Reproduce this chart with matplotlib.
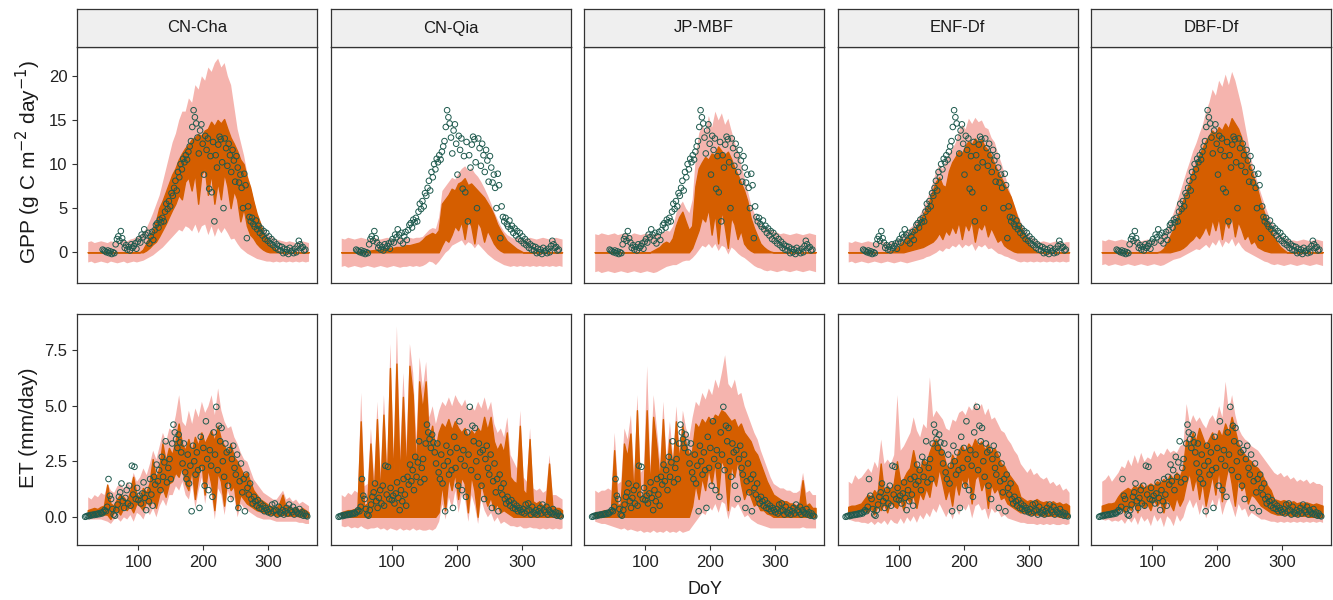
# GPP / ET: obserwacje vs. zakres modelu, 5 stanowisk

import numpy as np
import matplotlib.pyplot as plt

plt.rcParams['font.family'] = ['Liberation Sans', 'DejaVu Sans']

sites = ['CN-Cha', 'CN-Qia', 'JP-MBF', 'ENF-Df', 'DBF-Df']

# dni modelu (co 5 dni)
model_days = np.arange(22, 363, 5)

# obserwacje (wspólne dla wszystkich paneli w wierszu)
gpp_obs_days = np.arange(45, 358, 2)
gpp_obs = [0.3, 0.2, 0.1, 0.0, 0.2, -0.1, 0.1, -0.2, 0.0, -0.1,
           0.9, 1.5, 1.8, 1.3, 2.4, 1.6, 1.1, 0.5, 0.8, 0.3,
           0.6, 0.2, 0.9, 0.5, 0.7, 1.0, 0.4, 1.2, 1.5, 1.1,
           2.0, 1.7, 2.6, 2.0, 1.3, 2.2, 1.0, 1.8, 2.3, 1.4,
           2.5, 3.1, 3.3, 2.8, 3.7, 3.4, 3.9, 3.5, 4.6, 5.5,
           4.9, 5.8, 5.2, 6.7, 6.4, 7.3, 8.1, 7.0, 9.1, 8.5,
           10.0, 9.4, 10.6, 10.2, 11.0, 10.5, 11.4, 12.0, 12.6, 14.2,
           16.1, 15.3, 14.6, 13.0, 11.2, 13.8, 14.5, 12.3, 8.8, 13.2,
           11.6, 12.9, 7.2, 10.9, 6.8, 12.5, 3.5, 11.0, 9.6, 12.2,
           13.1, 12.8, 10.2, 5.0, 12.9, 11.8, 9.8, 12.3, 11.0, 9.1,
           11.6, 10.4, 8.0, 10.9, 9.6, 7.9, 8.8, 7.3, 5.0, 8.9,
           7.6, 1.6, 5.2, 4.0, 3.5, 3.9, 3.2, 2.9, 3.6, 2.6,
           3.0, 2.2, 2.7, 1.9, 2.4, 1.5, 2.2, 1.3, 1.8, 1.0,
           1.5, 0.8, 1.2, 0.5, 0.9, 0.3, 0.7, 0.2, 0.6, -0.1,
           0.4, 0.0, 0.3, -0.2, 0.5, 0.1, 0.2, -0.1, 0.4, 0.0,
           0.7, 1.3, 0.9, 0.5, 0.6, 0.2, 0.3]

et_obs_days = np.arange(18, 361, 2)
et_obs = [0.00, 0.02, 0.05, 0.03, 0.08, 0.06, 0.10, 0.08, 0.12, 0.10,
          0.15, 0.12, 0.18, 0.15, 0.22, 0.30, 0.25, 0.45, 1.70, 0.95,
          0.80, 0.35, 0.10, 0.05, 0.30, 0.55, 0.90, 1.10, 1.50, 0.70,
          0.40, 0.85, 1.20, 0.60, 1.40, 0.50, 2.30, 1.00, 2.25, 0.80,
          1.30, 0.75, 0.95, 0.60, 1.05, 1.55, 0.85, 0.30, 1.20, 0.70,
          1.70, 1.00, 0.50, 1.80, 1.45, 2.35, 1.60, 2.10, 1.20, 2.70,
          1.80, 2.45, 3.40, 1.55, 2.20, 2.60, 1.70, 3.30, 4.15, 3.80,
          3.50, 3.10, 3.70, 3.35, 2.90, 2.40, 3.30, 2.00, 1.70, 2.80,
          1.50, 2.30, 0.25, 3.20, 2.50, 1.90, 2.90, 2.10, 0.40, 3.60,
          2.20, 3.10, 1.40, 4.30, 2.60, 1.20, 3.00, 2.30, 0.90, 3.80,
          2.80, 4.95, 2.10, 4.10, 3.40, 4.00, 2.50, 1.80, 3.30, 2.90,
          1.40, 3.00, 0.80, 2.60, 3.20, 2.20, 1.90, 2.80, 0.40, 1.60,
          2.40, 1.10, 1.70, 0.25, 1.90, 1.30, 1.00, 1.50, 0.80, 0.60,
          0.90, 0.70, 0.50, 0.75, 0.40, 0.60, 0.35, 0.50, 0.25, 0.40,
          0.30, 0.20, 0.35, 0.15, 0.55, 0.25, 0.60, 0.30, 0.10, 0.45,
          0.20, 0.15, 0.30, 0.10, 0.25, 0.40, 0.15, 0.55, 0.30, 0.20,
          0.45, 0.10, 0.30, 0.20, 0.15, 0.35, 0.10, 0.20, 0.05, 0.15,
          0.05, 0.02]

# ---------------- GPP: zakres wewnętrzny (lo/hi) i zewnętrzny (env) ----------------
gpp_cha_hi = [0, 0, 0, 0, 0, 0, 0, 0, 0, 0,
              0, 0, 0, 0, 0, 0, 0, 0.3, 1.0, 1.8,
              2.5, 3.5, 5.0, 5.8, 6.8, 7.8, 8.8, 9.5, 10.5, 11.2,
              11.8, 12.2, 12.8, 13.0, 13.4, 13.2, 13.8, 14.0, 14.8, 14.3,
              15.0, 14.6, 15.1, 14.0, 13.0, 12.3, 11.5, 10.5, 10.0, 8.5,
              7.4, 5.8, 4.4, 3.4, 2.2, 1.6, 1.0, 0.6, 0.3, 0,
              0, 0, 0, 0, 0, 0, 0, 0, 0]
gpp_cha_lo = [0, 0, 0, 0, 0, 0, 0, 0, 0, 0,
              0, 0, 0, 0, 0, 0, 0, 0, 0.2, 0.5,
              0.9, 1.2, 1.8, 2.5, 3.2, 4.0, 4.8, 5.5, 6.5, 6.0,
              8.0, 8.5, 7.0, 9.0, 5.5, 8.8, 9.5, 6.5, 9.0, 5.5,
              8.0, 6.0, 9.0, 7.5, 5.0, 7.0, 6.0, 3.5, 5.0, 3.0,
              2.0, 1.6, 1.0, 0.6, 0.3, 0.1, 0, 0, 0, 0,
              0, 0, 0, 0, 0, 0, 0, 0, 0]
gpp_cha_env_hi = [1.2, 1.3, 1.1, 1.2, 1.3, 1.2, 1.1, 1.3, 1.2, 1.3,
                  1.2, 1.4, 1.3, 1.5, 1.6, 1.8, 2.0, 2.3, 2.8, 3.6,
                  4.5, 5.5, 6.5, 8.0, 9.5, 11.0, 12.5, 13.5, 15.0, 16.0,
                  16.0, 17.5, 17.0, 19.0, 18.5, 20.0, 19.5, 21.0, 20.5, 21.5,
                  22.0, 21.0, 21.5, 20.0, 19.0, 16.5, 14.0, 12.5, 11.0, 9.0,
                  7.5, 6.0, 4.5, 3.5, 2.8, 2.2, 1.9, 1.7, 1.5, 1.4,
                  1.3, 1.2, 1.3, 1.2, 1.1, 1.2, 1.3, 1.2, 1.1]
gpp_cha_env_lo = [-1.1, -1.0, -1.2, -1.1, -1.0, -1.1, -1.2, -1.0, -1.1, -1.2,
                  -1.1, -1.0, -1.2, -1.1, -1.0, -1.1, -1.0, -0.9, -0.7, -0.5,
                  -0.3, 0.0, 0.3, 0.6, 1.0, 1.4, 1.8, 2.2, 2.6, 2.4,
                  3.0, 2.8, 2.4, 3.2, 2.2, 3.0, 3.2, 2.0, 3.0, 1.8,
                  2.8, 2.2, 2.8, 2.2, 1.5, 1.6, 1.0, 0.5, 0.2, -0.1,
                  -0.3, -0.5, -0.7, -0.8, -0.9, -1.0, -1.0, -1.1, -1.0, -1.1,
                  -1.0, -1.1, -1.0, -1.1, -1.0, -1.1, -1.0, -1.1, -1.0]

gpp_qia_hi = [0, 0, 0, 0, 0, 0, 0, 0.1, 0.15, 0.2,
              0.25, 0.3, 0.3, 0.35, 0.4, 0.5, 0.5, 0.6, 0.6, 0.7,
              0.8, 0.8, 0.9, 1.0, 1.1, 1.4, 1.8, 2.0, 2.2, 2.0,
              2.5, 5.5, 6.0, 6.5, 7.2, 7.0, 7.8, 8.0, 8.4, 7.6,
              7.8, 7.4, 7.0, 6.6, 6.2, 5.6, 5.0, 4.2, 3.2, 2.5,
              1.9, 1.3, 1.0, 0.7, 0.4, 0.2, 0, 0, 0, 0,
              0, 0, 0, 0, 0, 0, 0, 0, 0]
gpp_qia_lo = [0, 0, 0, 0, 0, 0, 0, 0, 0, 0,
              0, 0, 0, 0, 0, 0, 0, 0, 0, 0,
              0, 0, 0, 0, 0, 0, 0, 0, 0, 0,
              0, 0.8, 1.5, 1.2, 2.0, 3.0, 2.5, 3.5, 1.5, 3.8,
              3.0, 1.0, 3.5, 2.8, 1.2, 2.5, 1.8, 1.0, 0.5, 0.2,
              0, 0, 0, 0, 0, 0, 0, 0, 0, 0,
              0, 0, 0, 0, 0, 0, 0, 0, 0]
gpp_qia_env_hi = [1.6, 1.5, 1.7, 1.6, 1.5, 1.6, 1.7, 1.6, 1.5, 1.6,
                  1.7, 1.6, 1.5, 1.6, 1.7, 1.6, 1.5, 1.6, 1.7, 1.6,
                  1.6, 1.7, 1.6, 1.7, 1.7, 1.8, 2.2, 2.6, 2.8, 2.7,
                  4.0, 7.0, 7.5, 8.0, 8.5, 8.3, 9.0, 9.5, 9.8, 9.3,
                  9.6, 9.0, 8.6, 8.0, 7.3, 6.5, 5.6, 4.6, 3.8, 3.0,
                  2.4, 2.0, 1.8, 1.6, 1.7, 1.6, 1.5, 1.6, 1.7, 1.6,
                  1.5, 1.6, 1.7, 1.6, 1.5, 1.6, 1.7, 1.6, 1.5]
gpp_qia_env_lo = [-1.6, -1.5, -1.7, -1.6, -1.5, -1.6, -1.7, -1.6, -1.5, -1.6,
                  -1.7, -1.6, -1.5, -1.6, -1.7, -1.6, -1.5, -1.6, -1.7, -1.6,
                  -1.6, -1.5, -1.6, -1.5, -1.6, -1.5, -1.3, -1.0, -1.1, -1.4,
                  -1.0, -0.5, 0.0, 0.3, 0.8, 1.0, 1.2, 1.4, 0.8, 1.2,
                  1.0, 0.5, 1.0, 0.6, 0.2, -0.2, -0.5, -0.8, -1.0, -1.2,
                  -1.4, -1.5, -1.6, -1.5, -1.6, -1.5, -1.6, -1.5, -1.6, -1.5,
                  -1.6, -1.5, -1.6, -1.5, -1.6, -1.5, -1.6, -1.5, -1.6]

gpp_mbf_hi = [0, 0, 0, 0, 0, 0, 0, 0, 0, 0,
              0, 0, 0, 0, 0, 0, 0, 0, 0.2, 0.4,
              0.6, 1.0, 1.2, 1.0, 1.6, 3.0, 4.0, 4.6, 3.5, 2.5,
              3.0, 7.5, 9.5, 10.2, 10.8, 10.5, 11.2, 11.0, 12.0, 11.5,
              11.0, 11.4, 10.6, 9.6, 8.8, 7.9, 7.0, 5.8, 3.9, 2.8,
              1.9, 1.0, 0.6, 0.3, 0.1, 0, 0, 0, 0, 0,
              0, 0, 0, 0, 0, 0, 0, 0, 0]
gpp_mbf_lo = [0, 0, 0, 0, 0, 0, 0, 0, 0, 0,
              0, 0, 0, 0, 0, 0, 0, 0, 0, 0,
              0, 0, 0, 0, 0, 0, 0, 0, 0, 0,
              0.5, 1.5, 2.5, 4.0, 3.5, 5.0, 2.0, 4.5, 1.0, 4.8,
              3.0, 0.5, 4.0, 3.2, 1.5, 2.5, 1.0, 0.5, 0.2, 0,
              0, 0, 0, 0, 0, 0, 0, 0, 0, 0,
              0, 0, 0, 0, 0, 0, 0, 0, 0]
gpp_mbf_env_hi = [2.1, 2.0, 2.2, 2.1, 2.0, 2.1, 2.2, 2.0, 2.1, 2.2,
                  2.1, 2.0, 2.2, 2.1, 2.0, 2.1, 2.2, 2.0, 2.1, 2.2,
                  2.1, 2.3, 2.5, 2.4, 3.0, 4.5, 5.3, 5.8, 5.0, 4.5,
                  6.0, 11.0, 13.5, 14.5, 13.8, 15.5, 14.2, 16.0, 15.0, 15.8,
                  14.5, 15.2, 13.8, 12.5, 11.5, 10.0, 8.5, 7.0, 5.5, 4.5,
                  3.8, 3.2, 3.0, 2.8, 2.6, 2.4, 2.3, 2.1, 2.2, 2.1,
                  2.0, 2.1, 2.2, 2.1, 2.0, 2.1, 2.2, 2.1, 2.0]
gpp_mbf_env_lo = [-2.2, -2.1, -2.3, -2.2, -2.1, -2.2, -2.3, -2.2, -2.1, -2.2,
                  -2.3, -2.2, -2.1, -2.2, -2.3, -2.2, -2.1, -2.2, -2.3, -2.2,
                  -2.0, -1.8, -1.6, -1.5, -1.4, -1.4, -1.2, -1.0, -0.9, -0.9,
                  -0.6, -0.2, 0.3, 0.8, 0.6, 1.0, 0.5, 1.0, 0.2, 0.8,
                  0.6, -0.2, 0.6, 0.3, -0.1, -0.4, -0.6, -0.9, -1.2, -1.5,
                  -1.7, -1.8, -2.0, -2.1, -2.0, -2.1, -2.2, -2.1, -2.0, -2.1,
                  -2.2, -2.1, -2.0, -2.1, -2.2, -2.1, -2.0, -2.1, -2.2]

gpp_enf_hi = [0, 0, 0, 0, 0, 0, 0, 0, 0, 0,
              0, 0, 0, 0.1, 0.2, 0.5, 0.9, 1.3, 1.7, 2.1,
              2.5, 3.0, 3.6, 4.2, 5.0, 5.8, 7.0, 8.0, 8.5, 7.6,
              7.4, 9.2, 10.2, 10.8, 11.5, 11.2, 12.0, 12.6, 12.2, 12.9,
              12.5, 12.8, 12.0, 11.6, 11.0, 10.0, 9.2, 8.5, 7.8, 7.0,
              6.3, 5.2, 4.0, 3.0, 2.2, 1.5, 0.8, 0.4, 0.1, 0,
              0, 0, 0, 0, 0, 0, 0, 0, 0]
gpp_enf_lo = [0, 0, 0, 0, 0, 0, 0, 0, 0, 0,
              0, 0, 0, 0, 0, 0, 0, 0, 0.1, 0.2,
              0.3, 0.4, 0.5, 0.6, 0.8, 1.0, 1.2, 1.6, 2.2, 1.5,
              2.5, 2.0, 3.0, 2.2, 3.5, 1.5, 3.3, 2.5, 3.6, 1.2,
              3.0, 2.6, 3.4, 1.8, 2.8, 2.0, 1.2, 1.5, 0.8, 0.5,
              0.3, 0.1, 0, 0, 0, 0, 0, 0, 0, 0,
              0, 0, 0, 0, 0, 0, 0, 0, 0]
gpp_enf_env_hi = [1.2, 1.1, 1.3, 1.2, 1.1, 1.2, 1.3, 1.2, 1.1, 1.2,
                  1.3, 1.2, 1.1, 1.2, 1.2, 1.4, 1.7, 2.0, 2.4, 2.8,
                  3.1, 3.6, 4.3, 5.0, 5.9, 6.9, 8.0, 9.3, 10.0, 9.5,
                  10.5, 11.3, 11.8, 12.5, 13.8, 14.5, 14.0, 15.2, 14.6, 15.3,
                  14.8, 15.0, 14.2, 14.0, 13.0, 12.5, 11.2, 10.2, 9.0, 7.7,
                  6.5, 5.4, 4.4, 3.5, 2.8, 2.2, 1.9, 1.6, 1.4, 1.2,
                  1.3, 1.2, 1.1, 1.2, 1.3, 1.2, 1.1, 1.2, 1.2]
gpp_enf_env_lo = [-1.1, -1.0, -1.2, -1.1, -1.0, -1.1, -1.2, -1.1, -1.0, -1.1,
                  -1.2, -1.1, -1.0, -1.1, -1.2, -1.1, -1.0, -1.1, -1.2, -1.1,
                  -1.0, -0.9, -0.8, -0.7, -0.5, -0.4, -0.2, 0.0, 0.3, 0.1,
                  0.5, 0.4, 0.8, 0.6, 1.0, 0.5, 0.9, 0.7, 1.0, 0.2,
                  0.8, 0.6, 0.9, 0.4, 0.5, 0.2, -0.1, -0.2, -0.4, -0.5,
                  -0.7, -0.8, -1.0, -1.1, -1.0, -1.1, -1.0, -1.1, -1.0, -1.1,
                  -1.0, -1.1, -1.0, -1.1, -1.0, -1.1, -1.0, -1.1, -1.0]

gpp_dbf_hi = [0, 0, 0, 0, 0, 0, 0, 0, 0, 0,
              0, 0, 0, 0, 0, 0, 0, 0, 0.1, 0.4,
              1.0, 1.8, 2.6, 3.8, 4.8, 5.8, 6.8, 8.0, 9.2, 10.0,
              11.0, 11.8, 12.6, 13.2, 13.8, 13.4, 14.2, 13.8, 14.6, 14.0,
              15.2, 14.6, 14.0, 13.0, 11.8, 10.5, 9.4, 8.2, 7.0, 5.6,
              4.5, 3.4, 2.6, 1.8, 1.1, 0.6, 0.3, 0, 0, 0,
              0, 0, 0, 0, 0, 0, 0, 0, 0]
gpp_dbf_lo = [0, 0, 0, 0, 0, 0, 0, 0, 0, 0,
              0, 0, 0, 0, 0, 0, 0, 0, 0, 0,
              0, 0, 0.1, 0.2, 0.3, 0.5, 0.8, 1.2, 1.5, 2.0,
              1.6, 2.2, 3.0, 2.0, 3.8, 2.5, 4.0, 1.5, 3.6, 2.8,
              4.2, 1.8, 3.5, 2.6, 1.5, 2.0, 1.0, 1.3, 0.6, 0.4,
              0.2, 0.1, 0, 0, 0, 0, 0, 0, 0, 0,
              0, 0, 0, 0, 0, 0, 0, 0, 0]
gpp_dbf_env_hi = [1.4, 1.3, 1.5, 1.4, 1.3, 1.4, 1.5, 1.4, 1.3, 1.4,
                  1.5, 1.4, 1.3, 1.4, 1.5, 1.4, 1.4, 1.5, 1.7, 2.2,
                  2.8, 3.5, 4.5, 5.6, 6.8, 8.0, 9.2, 10.3, 11.5, 12.4,
                  13.5, 14.5, 16.0, 17.0, 18.5, 17.8, 19.5, 18.8, 20.2, 19.0,
                  20.5, 19.5, 18.0, 16.5, 14.5, 12.5, 10.5, 9.0, 7.8, 6.6,
                  5.5, 4.5, 3.6, 3.0, 2.4, 2.0, 1.7, 1.5, 1.4, 1.4,
                  1.3, 1.4, 1.5, 1.4, 1.3, 1.4, 1.5, 1.4, 1.3]
gpp_dbf_env_lo = [-1.4, -1.3, -1.5, -1.4, -1.3, -1.4, -1.5, -1.4, -1.3, -1.4,
                  -1.5, -1.4, -1.3, -1.4, -1.5, -1.4, -1.3, -1.4, -1.5, -1.4,
                  -1.2, -1.0, -0.8, -0.7, -0.6, -0.4, -0.2, 0.0, 0.2, 0.4,
                  0.3, 0.6, 0.9, 0.5, 1.2, 0.8, 1.5, 0.6, 1.3, 1.0,
                  1.6, 0.7, 1.2, 0.6, 0.2, 0.0, -0.2, -0.4, -0.6, -0.8,
                  -1.0, -1.1, -1.3, -1.4, -1.3, -1.4, -1.5, -1.4, -1.3, -1.4,
                  -1.5, -1.4, -1.3, -1.4, -1.5, -1.4, -1.3, -1.4, -1.5]

# ---------------- ET ----------------
et_cha_hi = [0.3, 0.35, 0.4, 0.35, 0.45, 0.5, 1.45, 0.6, 0.5, 0.8,
             1.0, 0.9, 0.7, 1.1, 1.8, 1.0, 0.9, 1.3, 1.1, 1.5,
             2.6, 1.7, 2.2, 3.3, 2.5, 3.1, 2.8, 3.4, 4.2, 3.3,
             3.0, 3.5, 2.9, 3.6, 3.2, 3.8, 3.3, 3.6, 3.9, 3.4,
             4.1, 3.5, 3.2, 2.9, 3.3, 2.7, 2.5, 2.2, 1.9, 2.0,
             1.6, 1.2, 1.0, 0.8, 0.7, 0.6, 0.5, 0.45, 0.4, 0.6,
             1.0, 0.4, 0.5, 0.35, 0.45, 0.3, 0.4, 0.3, 0.2]
et_cha_lo = [0.05, 0.05, 0.05, 0.08, 0.08, 0.1, 0.1, -0.1, 0.2, 0.3,
             0.1, 0.4, 0.3, 0.5, 0.2, 0.6, 0.5, 0.3, 0.7, 0.5,
             0.8, 0.4, 1.0, 1.3, 0.9, 1.5, 1.6, 2.0, 1.8, 2.3,
             1.5, 1.2, 2.2, 0.8, 1.8, 2.5, 1.0, 2.2, 1.5, 0.3,
             2.0, 1.6, 0.5, 1.8, 1.2, 1.4, 0.3, 1.0, 0.8, 0.6,
             0.5, 0.4, 0.3, 0.25, 0.2, 0.15, 0.1, 0.1, 0.05, 0.05,
             0.1, 0.05, 0.05, 0.05, 0.05, 0.02, 0.02, 0.0, 0.0]
et_cha_env_hi = [0.9, 0.8, 1.0, 0.9, 1.1, 1.0, 1.5, 1.2, 1.1, 1.4,
                 1.5, 1.3, 1.6, 1.4, 2.0, 1.6, 1.8, 2.2, 1.9, 2.4,
                 3.0, 2.6, 3.2, 3.8, 3.4, 4.0, 3.9, 4.6, 5.5, 4.3,
                 4.1, 4.8, 4.2, 4.9, 4.5, 5.2, 4.7, 5.0, 5.5, 4.6,
                 5.8, 4.8, 4.3, 4.0, 4.1, 3.6, 3.3, 2.9, 2.6, 2.5,
                 2.1, 1.7, 1.5, 1.3, 1.1, 1.0, 0.9, 0.8, 0.8, 1.0,
                 1.2, 0.8, 0.9, 0.7, 0.8, 0.6, 0.7, 0.6, 0.5]
et_cha_env_lo = [-0.1, -0.1, -0.1, -0.1, -0.1, -0.15, -0.2, -0.3, -0.1, -0.05,
                 -0.2, 0.0, -0.1, 0.1, -0.2, 0.2, 0.1, -0.1, 0.3, 0.1,
                 0.4, 0.0, 0.5, 0.8, 0.5, 1.0, 1.0, 1.4, 1.2, 1.6,
                 1.0, 0.8, 1.5, 0.4, 1.2, 1.8, 0.6, 1.5, 1.0, -0.1,
                 1.3, 1.0, 0.1, 1.2, 0.7, 0.9, 0.0, 0.6, 0.4, 0.3,
                 0.2, 0.1, 0.0, -0.05, -0.1, -0.1, -0.1, -0.15, -0.2, -0.2,
                 -0.2, -0.2, -0.2, -0.2, -0.2, -0.25, -0.25, -0.3, -0.3]

et_qia_hi = [0.2, 0.25, 0.3, 0.3, 0.35, 0.4, 4.3, 0.5, 0.6, 3.3,
             0.8, 4.4, 0.9, 4.6, 1.2, 6.7, 1.5, 6.9, 1.6, 5.4,
             1.8, 6.8, 5.5, 2.0, 6.1, 4.8, 6.1, 3.5, 4.1, 3.0,
             3.8, 4.2, 4.0, 4.4, 3.9, 4.3, 4.0, 3.8, 4.0, 3.6,
             3.9, 3.7, 4.0, 3.8, 4.5, 3.9, 4.5, 3.4, 3.0, 3.3,
             2.9, 3.8, 1.8, 1.6, 1.5, 4.1, 1.2, 1.0, 3.5, 0.7,
             0.6, 0.7, 0.5, 0.6, 2.4, 0.5, 0.4, 0.4, 0.3]
et_qia_lo = [0, 0, 0, 0, 0, 0, 0, 0, 0, 0,
             0, 0, 0, 0, 0, 0, 0, 0, 0, 0,
             0, 0, 0, 0, 0, 0, 0, 0, 0, 0,
             0.2, 1.5, 0.3, 1.8, 1.2, 2.0, 0.8, 1.8, 1.5, 0.2,
             1.9, 1.2, 0.0, 1.6, 1.0, 0.5, 0.9, 0.3, 0.6, 0.2,
             0.3, 0.2, 0.1, 0, 0, 0, 0, 0, 0, 0,
             0, 0, 0, 0, 0, 0, 0, 0, 0]
et_qia_env_hi = [1.0, 0.9, 1.1, 1.0, 1.2, 1.1, 5.6, 1.4, 1.5, 4.0,
                 1.8, 5.2, 2.0, 5.5, 2.4, 7.8, 2.8, 8.6, 3.0, 6.5,
                 3.3, 7.8, 6.5, 3.6, 7.2, 5.8, 7.0, 4.5, 5.0, 4.2,
                 4.8, 5.2, 5.0, 5.4, 5.0, 5.5, 5.2, 5.0, 5.3, 4.8,
                 5.0, 4.8, 5.2, 4.9, 5.4, 4.8, 5.2, 4.2, 3.8, 4.0,
                 3.6, 4.5, 2.8, 2.5, 2.2, 4.8, 1.8, 1.6, 4.0, 1.3,
                 1.2, 1.3, 1.1, 1.2, 2.8, 1.0, 1.0, 0.9, 0.8]
et_qia_env_lo = [-0.4, -0.45, -0.4, -0.5, -0.45, -0.5, -0.4, -0.5, -0.55, -0.5,
                 -0.5, -0.45, -0.55, -0.5, -0.6, -0.5, -0.55, -0.6, -0.5, -0.6,
                 -0.55, -0.6, -0.5, -0.6, -0.55, -0.6, -0.6, -0.55, -0.6, -0.5,
                 -0.2, 0.6, -0.1, 0.9, 0.4, 1.2, 0.2, 1.0, 0.8, -0.2,
                 1.0, 0.5, -0.3, 0.8, 0.3, 0.0, 0.2, -0.2, 0.0, -0.3,
                 -0.2, -0.3, -0.4, -0.4, -0.45, -0.4, -0.5, -0.5, -0.45, -0.5,
                 -0.5, -0.55, -0.5, -0.55, -0.5, -0.55, -0.5, -0.55, -0.5]

et_mbf_hi = [0.2, 0.2, 0.25, 0.3, 0.3, 0.35, 3.0, 0.5, 0.6, 3.3,
             2.7, 3.75, 0.8, 4.8, 0.9, 1.0, 4.8, 1.2, 4.5, 3.2,
             1.6, 4.4, 1.8, 3.5, 2.2, 4.3, 2.5, 4.1, 3.3, 2.8,
             3.0, 4.2, 4.0, 4.4, 4.2, 4.5, 4.3, 4.6, 4.5, 4.8,
             4.7, 4.5, 4.3, 4.4, 4.0, 4.2, 3.8, 3.6, 3.4, 3.0,
             2.8, 2.4, 2.0, 1.6, 1.3, 1.0, 0.9, 0.8, 0.7, 0.7,
             0.6, 0.6, 0.5, 0.6, 1.65, 0.5, 0.6, 0.4, 0.4]
et_mbf_lo = [0, 0, 0, 0, 0, 0, 0, 0, 0, 0,
             0, 0, 0, 0, 0, 0, 0, 0, 0, 0,
             0, 0, 0, 0, 0, 0, 0, 0, 0, 0,
             0.5, 1.5, 0.8, 1.8, 1.2, 2.2, 1.5, 2.5, 1.0, 2.6,
             2.2, 0.3, 2.4, 1.8, 2.6, 1.5, 0.8, 1.2, 0.9, 0.5,
             0.6, 0.3, 0.3, 0.15, 0.1, 0, 0, 0, 0, 0,
             0, 0, 0, 0, 0, 0, 0, 0, 0]
et_mbf_env_hi = [1.2, 1.1, 1.2, 1.2, 1.3, 1.2, 3.8, 1.5, 1.6, 4.0,
                 3.5, 4.6, 1.9, 5.5, 2.0, 2.2, 6.8, 2.3, 5.5, 4.0,
                 2.5, 5.2, 2.6, 4.3, 2.7, 5.0, 3.0, 4.8, 4.0, 3.6,
                 4.5, 5.2, 5.0, 5.6, 5.3, 5.8, 5.5, 6.2, 5.8, 6.5,
                 7.3, 6.0, 5.8, 6.2, 5.5, 5.6, 5.0, 4.6, 4.2, 3.8,
                 3.5, 3.0, 2.6, 2.2, 1.8, 1.5, 1.4, 1.3, 1.3, 1.2,
                 1.2, 1.1, 1.1, 1.2, 2.0, 1.1, 1.2, 1.0, 1.0]
et_mbf_env_lo = [-0.2, -0.25, -0.3, -0.3, -0.35, -0.4, -0.45, -0.5, -0.55, -0.5,
                 -0.6, -0.55, -0.6, -0.65, -0.6, -0.7, -0.65, -0.7, -0.6, -0.7,
                 -0.65, -0.7, -0.6, -0.7, -0.65, -0.7, -0.6, -0.7, -0.65, -0.6,
                 -0.4, -0.2, 0.0, 0.2, 0.1, 0.5, 0.3, 0.6, 0.2, 0.7,
                 0.6, -0.1, 0.5, 0.4, 0.6, 0.3, 0.0, 0.1, -0.1, -0.2,
                 -0.3, -0.35, -0.4, -0.45, -0.5, -0.5, -0.5, -0.5, -0.5, -0.5,
                 -0.5, -0.5, -0.5, -0.5, -0.45, -0.5, -0.5, -0.5, -0.5]

et_enf_hi = [0.45, 0.5, 0.5, 0.55, 0.6, 0.8, 1.0, 0.9, 1.2, 1.0,
             2.4, 1.1, 1.4, 1.2, 1.5, 2.5, 1.6, 1.7, 2.0, 2.2,
             3.0, 2.3, 2.1, 2.6, 2.4, 2.9, 3.3, 3.5, 3.2, 3.0,
             2.4, 2.1, 2.8, 2.5, 3.0, 3.2, 2.9, 3.3, 3.1, 3.5,
             3.2, 3.4, 3.0, 3.3, 2.9, 3.1, 2.8, 2.4, 2.3, 2.0,
             1.8, 1.6, 1.4, 0.9, 0.8, 0.7, 0.75, 0.7, 0.8, 0.7,
             0.65, 0.7, 0.6, 0.7, 0.6, 0.65, 0.55, 0.6, 0.5]
et_enf_lo = [0.2, 0.2, 0.25, 0.25, 0.3, 0.3, 0.2, 0.4, 0.1, 0.5,
             0.3, 0.6, 0.2, 0.7, 0.5, 0.4, 0.8, 0.3, 0.9, 0.6,
             1.0, 0.4, 1.1, 0.8, 1.3, 0.9, 1.8, 1.4, 2.2, 1.5,
             0.8, 1.3, 0.5, 1.6, 1.0, 1.8, 1.3, 2.0, 0.6, 1.7,
             1.9, 1.2, 1.6, 0.4, 1.5, 1.1, 1.3, 0.8, 0.9, 0.6,
             0.5, 0.4, 0.3, 0.2, 0.2, 0.15, 0.1, 0.1, 0.1, 0.1,
             0.05, 0.05, 0.05, 0.05, 0.05, 0.0, 0.0, 0.0, 0.0]
et_enf_env_hi = [1.6, 1.5, 1.9, 1.7, 1.8, 2.0, 2.2, 2.0, 2.5, 2.2,
                 3.5, 2.4, 2.6, 2.4, 2.8, 5.5, 3.0, 3.2, 3.5, 3.8,
                 4.5, 3.9, 3.6, 4.2, 4.0, 6.3, 4.5, 4.8, 4.6, 4.4,
                 4.0, 3.9, 4.4, 4.3, 4.7, 4.8, 4.6, 5.0, 4.8, 5.2,
                 4.9, 5.1, 4.6, 4.9, 4.4, 4.5, 4.2, 3.9, 3.8, 3.5,
                 3.3, 3.0, 2.8, 2.4, 2.2, 2.0, 2.2, 1.9, 2.0, 1.8,
                 1.7, 1.8, 1.5, 1.6, 1.4, 1.5, 1.2, 1.3, 1.1]
et_enf_env_lo = [-0.1, -0.15, -0.2, -0.2, -0.25, -0.25, -0.3, -0.2, -0.35, -0.2,
                 -0.3, -0.15, -0.35, -0.1, -0.25, -0.3, -0.05, -0.3, 0.0, -0.2,
                 0.05, -0.25, 0.1, -0.1, 0.2, 0.0, 0.4, 0.2, 0.6, 0.3,
                 0.0, 0.3, -0.1, 0.4, 0.1, 0.5, 0.3, 0.6, -0.05, 0.5,
                 0.6, 0.3, 0.4, -0.1, 0.4, 0.2, 0.3, 0.0, 0.1, -0.05,
                 -0.1, -0.15, -0.2, -0.25, -0.25, -0.3, -0.3, -0.3, -0.35, -0.3,
                 -0.35, -0.3, -0.35, -0.3, -0.35, -0.35, -0.3, -0.35, -0.3]

et_dbf_hi = [0.5, 0.55, 0.6, 0.6, 0.65, 0.9, 1.1, 1.2, 1.3, 1.2,
             1.4, 1.3, 1.5, 1.3, 1.4, 1.5, 1.4, 1.6, 1.5, 1.7,
             1.6, 1.9, 1.7, 2.0, 1.8, 2.2, 3.5, 3.3, 3.8, 3.4,
             4.0, 3.6, 3.2, 3.5, 3.8, 3.4, 3.9, 3.6, 4.2, 3.8,
             4.5, 3.9, 3.3, 3.0, 2.8, 2.6, 2.5, 2.3, 2.2, 2.0,
             1.7, 1.4, 1.2, 0.8, 0.75, 0.7, 0.75, 0.7, 0.65, 0.7,
             0.6, 0.65, 0.6, 0.65, 0.6, 0.55, 0.6, 0.55, 0.5]
et_dbf_lo = [0.2, 0.2, 0.2, 0.25, 0.25, 0.3, 0.4, 0.2, 0.5, 0.3,
             0.6, 0.2, 0.7, 0.4, 0.6, 0.3, 0.8, 0.5, 0.7, 0.2,
             0.8, 0.6, 0.3, 0.9, 0.5, 0.8, 1.5, 2.0, 1.2, 1.8,
             0.8, 1.6, 0.5, 1.2, 1.9, 1.0, 2.2, 0.7, 1.6, 2.3,
             1.5, 0.5, 1.8, 1.2, 1.4, 0.6, 1.0, 0.9, 0.7, 0.5,
             0.4, 0.3, 0.2, 0.15, 0.1, 0.1, 0.1, 0.1, 0.05, 0.05,
             0.05, 0.05, 0.05, 0.05, 0.0, 0.0, 0.0, 0.0, 0.0]
et_dbf_env_hi = [1.6, 1.7, 1.9, 1.6, 1.8, 2.0, 2.3, 2.2, 2.6, 2.3,
                 2.8, 2.4, 2.9, 2.5, 2.7, 2.6, 3.0, 2.7, 2.9, 2.8,
                 3.1, 2.9, 3.0, 2.9, 3.2, 3.3, 5.1, 4.2, 4.6, 4.3,
                 4.5, 4.2, 4.0, 4.4, 4.6, 4.3, 5.0, 4.5, 6.1, 4.8,
                 5.5, 4.6, 4.0, 3.7, 3.5, 3.4, 3.2, 3.1, 3.0, 2.8,
                 2.6, 2.4, 2.2, 2.0, 1.9, 2.0, 1.8, 1.9, 1.7, 1.8,
                 1.6, 1.7, 1.6, 1.7, 1.5, 1.6, 1.5, 1.5, 1.4]
et_dbf_env_lo = [-0.1, -0.15, -0.1, -0.2, -0.15, -0.2, -0.1, -0.3, -0.05, -0.25,
                 0.0, -0.35, 0.05, -0.2, -0.05, -0.4, 0.1, -0.2, 0.0, -0.45,
                 0.05, -0.1, -0.4, 0.1, -0.2, 0.0, 0.5, 0.8, 0.4, 0.7,
                 0.1, 0.6, -0.05, 0.4, 0.8, 0.3, 0.9, 0.1, 0.6, 0.9,
                 0.5, 0.0, 0.6, 0.3, 0.4, 0.0, 0.2, 0.1, 0.0, -0.1,
                 -0.1, -0.15, -0.2, -0.2, -0.25, -0.2, -0.25, -0.2, -0.25, -0.2,
                 -0.25, -0.2, -0.25, -0.2, -0.25, -0.2, -0.25, -0.2, -0.25]

gpp_panels = [
    (gpp_cha_env_lo, gpp_cha_env_hi, gpp_cha_lo, gpp_cha_hi),
    (gpp_qia_env_lo, gpp_qia_env_hi, gpp_qia_lo, gpp_qia_hi),
    (gpp_mbf_env_lo, gpp_mbf_env_hi, gpp_mbf_lo, gpp_mbf_hi),
    (gpp_enf_env_lo, gpp_enf_env_hi, gpp_enf_lo, gpp_enf_hi),
    (gpp_dbf_env_lo, gpp_dbf_env_hi, gpp_dbf_lo, gpp_dbf_hi),
]
et_panels = [
    (et_cha_env_lo, et_cha_env_hi, et_cha_lo, et_cha_hi),
    (et_qia_env_lo, et_qia_env_hi, et_qia_lo, et_qia_hi),
    (et_mbf_env_lo, et_mbf_env_hi, et_mbf_lo, et_mbf_hi),
    (et_enf_env_lo, et_enf_env_hi, et_enf_lo, et_enf_hi),
    (et_dbf_env_lo, et_dbf_env_hi, et_dbf_lo, et_dbf_hi),
]

PINK = '#F5B4AE'
ORANGE = '#D55E00'
TEAL = '#1E5A4E'
FRAME = '#333333'


def draw_panel(ax, obs_days, obs, env_lo, env_hi, lo, hi):
    ax.fill_between(model_days, env_lo, env_hi, color=PINK, lw=0)
    ax.fill_between(model_days, lo, hi, facecolor=ORANGE,
                    edgecolor=ORANGE, lw=1.0)
    ax.scatter(obs_days, obs, s=16, facecolors='none', edgecolors=TEAL,
               linewidths=0.7, zorder=3)
    ax.set_xlim(5.5, 375)
    for sp in ax.spines.values():
        sp.set_color(FRAME)
        sp.set_linewidth(0.9)
    ax.tick_params(colors=FRAME, labelcolor='#222222', labelsize=12,
                   length=3.5, width=0.8)


def main():
    fig = plt.figure(figsize=(13.33, 6.0), dpi=100)
    W, H = 1333.0, 600.0
    lefts = [77, 330.5, 584, 837.5, 1091]
    pw = 240

    for i, site in enumerate(sites):
        # górny wiersz: GPP
        ax = fig.add_axes([lefts[i] / W, 1 - 282.7 / H, pw / W, 236 / H])
        env_lo, env_hi, lo, hi = gpp_panels[i]
        draw_panel(ax, gpp_obs_days, gpp_obs, env_lo, env_hi, lo, hi)
        ax.set_ylim(-3.45, 23.3)
        ax.set_yticks([0, 5, 10, 15, 20])
        ax.set_xticks([])
        if i > 0:
            ax.set_yticks([])

        # pasek z nazwą stanowiska
        sax = fig.add_axes([lefts[i] / W, 1 - 46.7 / H, pw / W, 37.4 / H])
        sax.set_facecolor('#EFEFEF')
        sax.set_xticks([])
        sax.set_yticks([])
        for sp in sax.spines.values():
            sp.set_color(FRAME)
            sp.set_linewidth(0.9)
        sax.text(0.5, 0.5, site, ha='center', va='center', fontsize=12,
                 color='#1a1a1a', transform=sax.transAxes)

        # dolny wiersz: ET
        bx = fig.add_axes([lefts[i] / W, 1 - 545 / H, pw / W, 231 / H])
        env_lo, env_hi, lo, hi = et_panels[i]
        draw_panel(bx, et_obs_days, et_obs, env_lo, env_hi, lo, hi)
        bx.set_ylim(-1.27, 9.13)
        bx.set_yticks([0.0, 2.5, 5.0, 7.5])
        bx.set_yticklabels(['0.0', '2.5', '5.0', '7.5'])
        bx.set_xticks([100, 200, 300])
        if i > 0:
            bx.set_yticks([])

    fig.text(28 / W, 1 - 162 / H, r'GPP (g C m$^{-2}$ day$^{-1}$)',
             rotation=90, ha='center', va='center', fontsize=15, color='#1a1a1a')
    fig.text(28 / W, 1 - 428 / H, 'ET (mm/day)', rotation=90,
             ha='center', va='center', fontsize=15, color='#1a1a1a')
    fig.text(705 / W, 1 - 589 / H, 'DoY', ha='center', va='center',
             fontsize=13, color='#1a1a1a')

    fig.savefig('out.png', dpi=100)


if __name__ == '__main__':
    main()
